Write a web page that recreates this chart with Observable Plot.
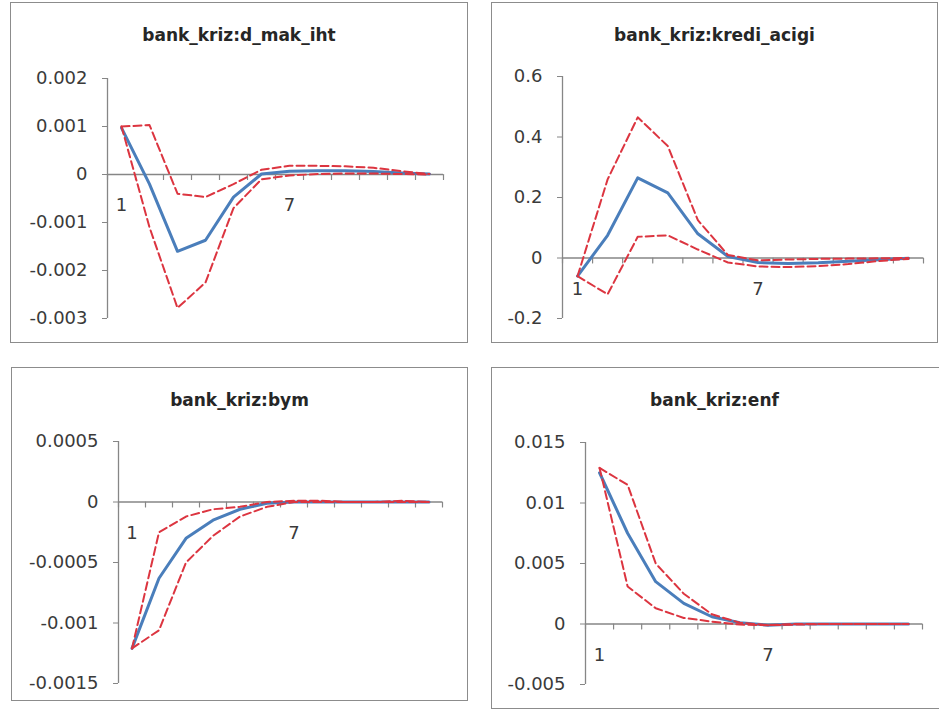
<!DOCTYPE html>
<html>
<head>
<meta charset="utf-8">
<script src="https://cdn.jsdelivr.net/npm/d3@7"></script>
<script src="https://cdn.jsdelivr.net/npm/@observablehq/plot@0.6"></script>
<style>
  html, body { margin: 0; padding: 0; background: #fff; }
  body { width: 939px; height: 709px; overflow: hidden; position: relative; font-family: "DejaVu Sans", sans-serif; }
  .box { position: absolute; border: 1px solid #8c8c8c; box-sizing: border-box; }
  .chart { position: absolute; }
  .title { position: absolute; text-align: center; font-weight: bold; font-size: 17px; line-height: 17px; color: #262626; white-space: nowrap; }
</style>
</head>
<body>
<script>
// ---- shared categories / tick labels ----
const periods = [1, 2, 3, 4, 5, 6, 7, 8, 9, 10, 11, 12];
const xTickLabels = [1, 7];
const categoryEdges = [0.5, 1.5, 2.5, 3.5, 4.5, 5.5, 6.5, 7.5, 8.5, 9.5, 10.5, 11.5, 12.5];

// ---- panel 1: bank_kriz:d_mak_iht ----
const makIhtTitle = "bank_kriz:d_mak_iht";
const makIhtTicks = [-0.003, -0.002, -0.001, 0, 0.001, 0.002];
const makIhtMid   = [0.00097, -0.0002, -0.0016, -0.00137, -0.00047, 0.00001, 0.00007, 0.00008, 0.00008, 0.00006, 0.00003, 0.00001];
const makIhtUpper = [0.001, 0.00103, -0.0004, -0.00047, -0.0002, 0.0001, 0.00018, 0.00018, 0.00017, 0.00014, 0.00007, 0.00001];
const makIhtLower = [0.001, -0.0011, -0.00278, -0.00225, -0.0007, -0.0001, -0.00002, 0.00001, 0.00002, 0.00002, 0.00001, 0];

// ---- panel 2: bank_kriz:kredi_acigi ----
const krediTitle = "bank_kriz:kredi_acigi";
const krediTicks = [-0.2, 0, 0.2, 0.4, 0.6];
const krediMid   = [-0.06, 0.075, 0.265, 0.215, 0.08, 0.005, -0.015, -0.018, -0.016, -0.011, -0.006, -0.001];
const krediUpper = [-0.06, 0.26, 0.465, 0.37, 0.125, 0.01, -0.008, -0.005, -0.003, -0.002, -0.001, 0];
const krediLower = [-0.06, -0.12, 0.07, 0.075, 0.028, -0.015, -0.028, -0.03, -0.027, -0.02, -0.01, -0.003];

// ---- panel 3: bank_kriz:bym ----
const bymTitle = "bank_kriz:bym";
const bymTicks = [-0.0015, -0.001, -0.0005, 0, 0.0005];
const bymMid   = [-0.00121, -0.00063, -0.0003, -0.00015, -0.00006, -0.00001, 0, 0, 0, 0, 0, 0];
const bymUpper = [-0.00121, -0.00025, -0.00012, -0.00006, -0.00004, 0, 0.00001, 0.00001, 0, 0, 0.00001, 0];
const bymLower = [-0.00121, -0.00106, -0.0005, -0.00028, -0.00012, -0.00004, 0, 0, 0, 0, 0, 0];

// ---- panel 4: bank_kriz:enf ----
const enfTitle = "bank_kriz:enf";
const enfTicks = [-0.005, 0, 0.005, 0.01, 0.015];
const enfMid   = [0.0125, 0.0075, 0.0035, 0.0017, 0.0006, 0.0001, -0.0001, 0, 0, 0, 0, 0];
const enfUpper = [0.0129, 0.0115, 0.005, 0.0025, 0.0008, 0.0001, -0.0001, 0, 0, 0, 0, 0];
const enfLower = [0.0129, 0.0031, 0.0013, 0.0005, 0.0002, -0.00005, -0.0001, -0.00005, 0, 0, 0, 0];

// ---- layout (positions only) ----
const panels = [
  {title: makIhtTitle, ticks: makIhtTicks, mid: makIhtMid, upper: makIhtUpper, lower: makIhtLower,
   left: 10, top: 2, width: 458, height: 341, mL: 97, mR: 25, mT: 76, mB: 25},
  {title: krediTitle, ticks: krediTicks, mid: krediMid, upper: krediUpper, lower: krediLower,
   left: 491, top: 2, width: 447, height: 341, mL: 71, mR: 15, mT: 74, mB: 25},
  {title: bymTitle, ticks: bymTicks, mid: bymMid, upper: bymUpper, lower: bymLower,
   left: 11, top: 367, width: 457, height: 334, mL: 107, mR: 26, mT: 74, mB: 18},
  {title: enfTitle, ticks: enfTicks, mid: enfMid, upper: enfUpper, lower: enfLower,
   left: 491, top: 367, width: 460, height: 342, mL: 94, mR: 29, mT: 75, mB: 25}
];

const axisGray = "#868686";
const textColor = "#3a3a3a";
const blue = "#4a7ebb";
const red = "#dc3540";
const labelSize = 18;
const tickShape = {draw(context, l) { context.moveTo(0, 0); context.lineTo(0, -l); }};

for (const p of panels) {
  const box = document.createElement("div");
  box.className = "box";
  Object.assign(box.style, {left: p.left + "px", top: p.top + "px", width: p.width + "px", height: p.height + "px"});
  document.body.appendChild(box);

  const rows = periods.map((t, i) => ({t, mid: p.mid[i], up: p.upper[i], lo: p.lower[i]}));
  const lo = d3.min(p.ticks), hi = d3.max(p.ticks);

  const svg = Plot.plot({
    width: p.width, height: p.height,
    marginLeft: p.mL, marginRight: p.mR, marginTop: p.mT, marginBottom: p.mB,
    style: {fontFamily: "DejaVu Sans, sans-serif", fontSize: labelSize + "px", color: textColor, background: "transparent", overflow: "visible"},
    x: {domain: [0.5, 12.5], axis: null},
    y: {domain: [lo, hi], axis: null},
    marks: [
      Plot.ruleX([0.5], {stroke: axisGray, strokeWidth: 1.3}),
      Plot.ruleY([0], {x1: 0.5, x2: 12.5, stroke: axisGray, strokeWidth: 1.3}),
      Plot.vector(categoryEdges, {x: d => d, y: 0, length: 5, rotate: 180, anchor: "start", shape: tickShape, stroke: axisGray, strokeWidth: 1.2}),
      Plot.axisY(p.ticks, {anchor: "left", tickSize: 5, tickPadding: 15, tickFormat: d => String(d), stroke: axisGray, fill: textColor, fontSize: labelSize}),
      Plot.text(xTickLabels, {x: d => d, y: 0, dy: 31, text: d => String(d), fill: textColor, fontSize: labelSize}),
      Plot.line(rows, {x: "t", y: "mid", stroke: blue, strokeWidth: 3}),
      Plot.line(rows, {x: "t", y: "up", stroke: red, strokeWidth: 2, strokeDasharray: "8,4"}),
      Plot.line(rows, {x: "t", y: "lo", stroke: red, strokeWidth: 2, strokeDasharray: "8,4"})
    ]
  });
  svg.classList.add("chart");
  svg.style.left = p.left + "px";
  svg.style.top = p.top + "px";
  document.body.appendChild(svg);

  const t = document.createElement("div");
  t.className = "title";
  t.textContent = p.title;
  const visibleRight = Math.min(p.left + p.width, 938);
  Object.assign(t.style, {left: p.left + "px", width: (visibleRight - p.left) + "px", top: (p.top + 25) + "px"});
  document.body.appendChild(t);
}
</script>
</body>
</html>
